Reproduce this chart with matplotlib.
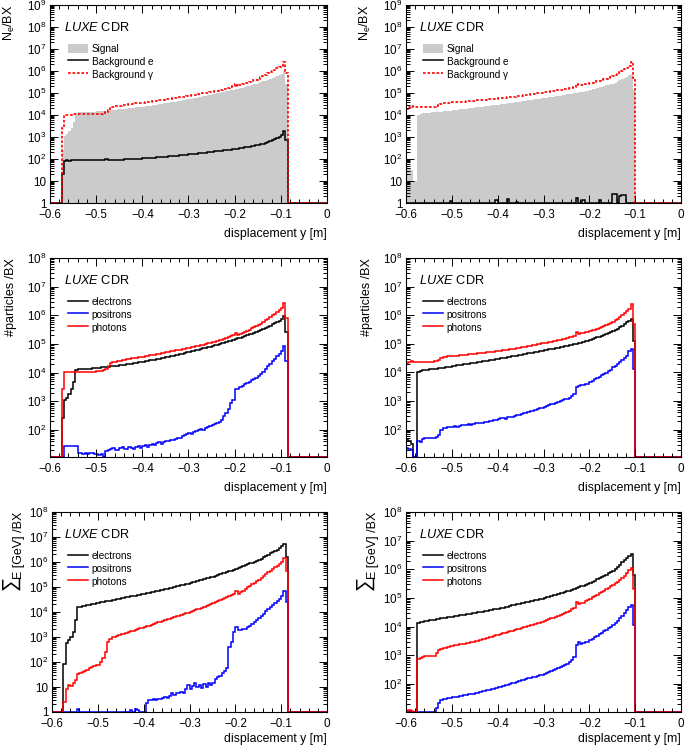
import numpy as np
import matplotlib
matplotlib.use("Agg")
import matplotlib.pyplot as plt
from matplotlib.ticker import LogLocator, FixedLocator, MultipleLocator, FuncFormatter, NullFormatter

plt.rcParams['font.family'] = ['Liberation Sans', 'DejaVu Sans']
plt.rcParams['mathtext.fontset'] = 'custom'
plt.rcParams['mathtext.rm'] = 'Liberation Sans'
plt.rcParams['mathtext.it'] = 'Liberation Sans:italic'
plt.rcParams['mathtext.bf'] = 'Liberation Sans:bold'
plt.rcParams['axes.unicode_minus'] = True

# ---------------- binning ----------------
X_MIN, X_MAX, BIN_WIDTH = -0.6, 0.0, 0.005
LEFT_START = -0.575    # first filled bin of the left-hand column
RIGHT_START = -0.6     # first filled bin of the right-hand column

# ---------------- left column : number of particles per BX ----------------
# bins from -0.575 to -0.085 (98 bins)
left_electrons = [
    260, 1100, 1300, 1800, 2600, 4600, 12000, 13000, 13200, 13400,
    13600, 13800, 14000, 14200, 14400, 14700, 15000, 15300, 15600, 15900,
    16200, 16600, 17000, 17400, 17800, 18200, 18700, 19200, 19700, 20200,
    20800, 21400, 22000, 22700, 23400, 24200, 25000, 25900, 26800, 27800,
    28800, 29900, 31000, 32200, 33500, 34900, 36300, 37800, 39400, 41000,
    42800, 44700, 46700, 48800, 51000, 53300, 55800, 58400, 61200, 64100,
    67200, 70500, 74000, 77700, 81600, 85800, 90300, 95000, 100000, 105500,
    111000, 117000, 124000, 131000, 139000, 147000, 156000, 166000, 177000, 189000,
    202000, 216000, 232000, 249000, 268000, 289000, 312000, 338000, 367000, 400000,
    437000, 480000, 530000, 590000, 660000, 760000, 980000, 260000]
left_photons = [
    2700, 10500, 10500, 10500, 10500, 10600, 10600, 10600, 10700, 10700,
    10800, 10800, 10900, 10900, 11000, 11100, 11200, 11500, 12500, 14000,
    17000, 22000, 23500, 24500, 25500, 26500, 27500, 28500, 29500, 30500,
    31500, 32500, 33500, 34500, 35500, 36500, 37700, 39000, 40300, 41700,
    43100, 44600, 46200, 47800, 49500, 51300, 53200, 55200, 57300, 59500,
    61800, 64200, 66700, 69300, 72000, 74900, 78000, 81200, 84600, 88200,
    92000, 96000, 100500, 105000, 110000, 115000, 120500, 126500, 133000, 140000,
    150000, 160000, 172000, 185000, 205000, 250000, 210000, 230000, 250000, 270000,
    295000, 320000, 350000, 380000, 410000, 450000, 510000, 590000, 670000, 770000,
    880000, 1000000, 1150000, 1300000, 1500000, 1750000, 2700000, 780000]
left_positrons = [
    0, 28, 28, 28, 27, 27, 27, 16, 16, 15,
    16, 15, 16, 16, 15, 15, 14, 15, 0, 18,
    20, 22, 24, 21, 20, 24, 26, 22, 22, 25,
    23, 22, 25, 28, 24, 27, 31, 26, 30, 33,
    29, 34, 38, 33, 37, 42, 40, 46, 44, 50,
    55, 52, 60, 66, 72, 78, 75, 85, 92, 100,
    108, 102, 115, 125, 135, 150, 160, 175, 195, 220,
    300, 380, 550, 850, 1100, 2700, 2800, 3100, 3500, 3900,
    4300, 4800, 5400, 6000, 6800, 7600, 9200, 11000, 13700, 16700,
    20000, 25000, 30000, 37000, 45000, 56000, 83000, 25000]
left_background_e = [
    21, 85, 88, 84, 90, 88, 86, 90, 88, 87,
    89, 87, 90, 88, 91, 89, 90, 88, 92, 100,
    90, 88, 90, 91, 93, 92, 94, 95, 96, 97,
    98, 99, 101, 103, 104, 106, 108, 110, 111, 113,
    115, 117, 119, 122, 124, 127, 130, 133, 136, 139,
    142, 146, 150, 154, 158, 162, 166, 170, 175, 180,
    185, 190, 196, 202, 208, 214, 220, 227, 234, 241,
    248, 255, 262, 270, 278, 287, 299, 311, 324, 337,
    351, 365, 380, 396, 412, 430, 460, 495, 535, 580,
    640, 710, 800, 900, 1050, 1250, 1950, 750]

# ---------------- left column : summed energy per BX [GeV] ----------------
left_electrons_E = [
    87, 550, 750, 1000, 1600, 4800, 15500, 16200, 17000, 17800,
    18600, 19500, 20400, 21400, 22400, 23400, 24400, 25500, 26500, 27700,
    28800, 30100, 31300, 32700, 34000, 35500, 37000, 38500, 40200, 41900,
    43600, 45500, 47400, 49400, 51500, 53700, 56200, 58900, 61700, 64600,
    67600, 70800, 74100, 77600, 81300, 85100, 89700, 94600, 99800, 105200,
    110900, 117000, 123300, 130000, 137100, 144500, 153500, 163000, 173000, 183700,
    195000, 207000, 220000, 233000, 248000, 263000, 282000, 302000, 324000, 347000,
    372000, 398000, 427000, 457000, 490000, 525000, 571000, 622000, 678000, 738000,
    804000, 875000, 953000, 1040000, 1130000, 1230000, 1380000, 1550000, 1740000, 1950000,
    2190000, 2450000, 2820000, 3160000, 3550000, 4170000, 5250000, 1580000]
left_photons_E = [
    2.5, 8.7, 12, 11, 14, 19, 33, 37, 40, 45,
    50, 55, 63, 68, 74, 74, 100, 140, 250, 630,
    870, 955, 1023, 1096, 1175, 1259, 1349, 1445, 1549, 1660,
    1778, 1905, 2042, 2188, 2344, 2512, 2692, 2884, 3090, 3311,
    3548, 3802, 4074, 4365, 4677, 5012, 5370, 5754, 6166, 6607,
    7079, 7586, 8128, 8710, 9333, 10000, 10840, 11750, 12740, 13800,
    14960, 16220, 17580, 19050, 20650, 22390, 24550, 26920, 29510, 32360,
    35480, 38900, 42660, 46770, 51290, 66070, 54950, 63100, 72440, 83180,
    95500, 109600, 125900, 144500, 166000, 190500, 226500, 269200, 319900, 380200,
    451900, 537000, 631000, 724000, 851000, 1000000, 1445000, 447000]
left_positrons_E = [
    0, 0, 0, 0, 0, 0, 1.35, 0, 0, 0,
    0, 0, 0, 0, 0, 0, 0, 0, 0, 0,
    0, 0, 0, 0, 0, 0, 0, 0, 0, 1.2,
    0, 1.3, 1.2, 0, 0, 0, 2.2, 2.9, 3.0, 3.2,
    3.0, 3.4, 3.3, 3.6, 4.0, 3.8, 4.5, 5.5, 5.0, 6.0,
    5.5, 6.2, 5.8, 8.0, 12, 8.0, 11, 14, 10, 12,
    9, 13, 10, 14, 12, 15, 20, 25, 28, 35,
    45, 55, 400, 630, 1600, 2600, 1900, 1900, 2000, 2100,
    2450, 2880, 3390, 4070, 4790, 5620, 6920, 8510, 10500, 12600,
    15500, 19050, 22400, 27500, 33900, 41700, 66100, 24500]

# ---------------- right column : number of particles per BX ----------------
# bins from -0.6 to -0.1 (100 bins)
right_electrons = [
    46, 40, 32, 10, 10, 10500, 11500, 11800, 12100, 12400,
    12700, 13000, 13300, 13600, 14000, 14400, 14800, 15200, 15600, 16000,
    16500, 17000, 17500, 18000, 18500, 19000, 19600, 20200, 20800, 21400,
    22000, 22700, 23400, 24100, 24800, 25600, 26400, 27200, 28100, 29000,
    30000, 31000, 32000, 33000, 34100, 35200, 36400, 37600, 38900, 40200,
    41600, 43000, 44500, 46000, 47600, 49300, 51000, 52800, 54700, 56700,
    58800, 61000, 63300, 65700, 68200, 70800, 73500, 76400, 79400, 82600,
    86000, 89600, 93400, 97400, 101600, 106000, 110700, 115700, 121000, 126600,
    135000, 145000, 155000, 166000, 178000, 191000, 205000, 220000, 235000, 252000,
    270000, 300000, 340000, 380000, 430000, 490000, 560000, 640000, 720000, 130000]
right_photons = [
    19000, 24000, 26000, 23000, 22500, 22500, 22500, 22800, 23000, 23200,
    23500, 23800, 24200, 25500, 28000, 31000, 34000, 35500, 36200, 36800,
    37400, 38000, 38700, 39400, 40100, 40800, 41600, 42400, 43200, 44000,
    44900, 45800, 46800, 47800, 48900, 50000, 51200, 52400, 53700, 55000,
    56400, 57900, 59400, 61000, 62700, 64500, 66400, 68400, 70500, 72700,
    75000, 77500, 80100, 82800, 85700, 88700, 91900, 95200, 98700, 102400,
    106000, 110000, 114000, 118500, 123000, 128000, 133000, 138500, 144000, 150000,
    160000, 168000, 177000, 190000, 260000, 225000, 232000, 240000, 250000, 262000,
    275000, 292000, 312000, 335000, 360000, 388000, 420000, 455000, 495000, 540000,
    590000, 660000, 760000, 890000, 1050000, 1200000, 1400000, 1700000, 2450000, 480000]
right_positrons = [
    22, 21, 19, 0, 0, 40, 38, 48, 49, 50,
    50, 51, 50, 55, 65, 100, 115, 118, 125, 120,
    128, 132, 125, 138, 142, 140, 150, 155, 148, 160,
    165, 170, 175, 168, 185, 190, 200, 195, 210, 220,
    235, 245, 255, 230, 265, 275, 285, 300, 315, 330,
    350, 370, 390, 410, 435, 460, 490, 520, 555, 590,
    630, 670, 710, 760, 810, 860, 920, 990, 1060, 1140,
    1220, 1320, 1450, 1700, 3100, 3300, 3500, 3600, 3800, 4000,
    4600, 5100, 5700, 6300, 7000, 7800, 8700, 9700, 10800, 12000,
    15000, 17000, 19500, 23000, 27000, 32000, 38000, 55000, 66000, 13000]
right_background_e = [
    0, 0, 0, 0, 0, 0, 0, 0, 0, 0,
    0, 0, 0, 0, 0, 0, 0, 0, 0, 1.2,
    0, 0, 0, 0, 0, 0, 0, 0, 0, 0,
    0, 0, 0, 0, 0, 0, 0, 0, 0, 1.4,
    0, 0, 0, 0, 1.5, 0, 0, 0, 1.15, 0,
    0, 0, 0, 0, 0, 0, 0, 0, 0, 0,
    0, 0, 0, 0, 0, 0, 0, 0, 0, 0,
    0, 0, 0, 0, 1.7, 0, 0, 1.3, 0, 0,
    0, 0, 0, 0, 1.4, 0, 0, 0, 0, 0,
    2.6, 2.6, 0, 2.0, 2.3, 2.3, 0, 0, 0, 0]

# ---------------- right column : summed energy per BX [GeV] ----------------
right_electrons_E = [
    0, 0, 0, 0, 0, 13800, 14500, 15000, 15500, 16000,
    16600, 17100, 17600, 18200, 18700, 19300, 19900, 20500, 21100, 21700,
    22400, 23100, 23800, 24500, 25200, 26000, 26800, 27600, 28400, 29300,
    30200, 31300, 32400, 33500, 34700, 35900, 37200, 38500, 39800, 41200,
    42700, 44500, 46300, 48300, 50400, 52500, 54700, 57000, 59400, 61900,
    64600, 67500, 70500, 73600, 76900, 80400, 83900, 87700, 91600, 95700,
    100000, 105400, 111200, 117200, 123600, 130300, 137400, 144900, 152800, 161100,
    169800, 181600, 194100, 207500, 221800, 237100, 253500, 271000, 289700, 309700,
    331100, 364800, 401800, 442600, 487500, 537000, 591600, 651600, 717800, 790700,
    871000, 1035000, 1230000, 1462000, 1738000, 2065000, 2455000, 2917000, 3388000, 631000]
right_photons_E = [
    11, 12, 11, 0, 0, 759, 832, 891, 912, 912,
    933, 955, 977, 1202, 1514, 1660, 1778, 1862, 1950, 2042,
    2138, 2218, 2301, 2388, 2477, 2570, 2667, 2767, 2871, 2979,
    3090, 3258, 3436, 3622, 3819, 4027, 4246, 4477, 4721, 4977,
    5248, 5534, 5834, 6152, 6486, 6839, 7211, 7603, 8017, 8453,
    8913, 9419, 9954, 10520, 11120, 11750, 12420, 13120, 13870, 14660,
    15490, 16670, 17950, 19320, 20800, 22390, 24100, 25940, 27930, 30060,
    32360, 35480, 39810, 45710, 74130, 61660, 64570, 69180, 75860, 85110,
    93330, 104200, 116400, 130000, 145200, 162200, 181100, 202300, 225900, 252300,
    281800, 323600, 371500, 426600, 501200, 602600, 741300, 912000, 1096000, 213800]
right_positrons_E = [
    0, 0, 0, 0, 0, 0, 0, 0, 0, 0,
    0, 0, 0, 15, 21, 27, 30, 31, 32, 33,
    34, 35, 36, 38, 39, 40, 42, 43, 45, 46,
    48, 50, 52, 55, 58, 60, 63, 66, 69, 72,
    76, 80, 85, 90, 95, 100, 106, 112, 118, 125,
    132, 139, 147, 155, 163, 172, 181, 191, 201, 212,
    224, 243, 263, 285, 309, 335, 363, 394, 427, 462,
    501, 575, 676, 891, 2239, 2884, 2512, 2630, 2818, 3020,
    3311, 3741, 4227, 4775, 5395, 6095, 6887, 7780, 8790, 9931,
    11220, 13490, 16220, 19500, 23440, 29990, 38370, 48980, 56230, 11220]

x_ticks = [-0.6, -0.5, -0.4, -0.3, -0.2, -0.1, 0.0]
x_label = "displacement y [m]"
series_labels = ["electrons", "positrons", "photons"]
top_labels = ["Signal", "Background e", "Background \u03b3"]

# ---------------- figure ----------------
W, H = 685, 746
fig = plt.figure(figsize=(W / 100, H / 100), dpi=100)

n_bins = int(round((X_MAX - X_MIN) / BIN_WIDTH))
edges = np.linspace(X_MIN, X_MAX, n_bins + 1)


def full(values, start):
    out = np.zeros(n_bins)
    i0 = int(round((start - X_MIN) / BIN_WIDTH))
    out[i0:i0 + len(values)] = values
    return out


def make_ax(l, r, t, b):
    return fig.add_axes([l / W, 1 - b / H, (r - l) / W, (b - t) / H])


def yfmt(v, pos):
    k = int(round(np.log10(v)))
    if k == 0:
        return "1"
    if k == 1:
        return "10"
    return r"$\mathregular{10^{%d}}$" % k


def xfmt(v, pos):
    if abs(v) < 1e-9:
        return "0"
    return ("%.1f" % v).replace("-", "\u2212")


def style(ax, ymin, ymax, label_y):
    ax.set_xlim(X_MIN, X_MAX)
    ax.set_yscale("log")
    ax.set_ylim(ymin, ymax)
    ax.xaxis.set_major_locator(FixedLocator(x_ticks))
    ax.xaxis.set_minor_locator(MultipleLocator(0.02))
    ax.xaxis.set_major_formatter(FuncFormatter(xfmt))
    lo = int(np.ceil(np.log10(ymin) - 1e-9))
    hi = int(np.floor(np.log10(ymax) + 1e-9))
    ax.yaxis.set_major_locator(FixedLocator([10.0 ** k for k in range(lo, hi + 1)]))
    ax.yaxis.set_minor_locator(LogLocator(base=10, subs=np.arange(2, 10), numticks=20))
    ax.yaxis.set_major_formatter(FuncFormatter(yfmt))
    ax.yaxis.set_minor_formatter(NullFormatter())
    ax.tick_params(which="both", direction="in", top=True, right=True,
                   labelsize=8.4, width=0.7)
    ax.tick_params(axis="x", which="both", pad=4.5)
    ax.tick_params(axis="y", which="both", pad=2.5)
    ax.tick_params(which="major", length=5.5)
    ax.tick_params(which="minor", length=2.8)
    for s in ax.spines.values():
        s.set_linewidth(0.8)
    ax.set_xlabel(x_label, fontsize=8.8, loc="right")
    ax.xaxis.set_label_coords(1.0, label_y)


def luxe(px, py):
    fig.text(px / W, 1 - py / H, r"$\mathit{LUXE}$ CDR", fontsize=9.2, va="baseline")


def top_panel(box, sig, bge, bgg, start):
    ax = make_ax(*box)
    style(ax, 1, 1e9, -0.125)
    ymin = 1
    ax.stairs(np.clip(full(sig, start), ymin, None), edges, baseline=ymin, fill=True,
              color="#cbcbcb", linewidth=0, label=top_labels[0])
    ax.stairs(np.clip(full(bge, start), ymin, None), edges, baseline=None,
              color="black", linewidth=1.1, label=top_labels[1])
    ax.stairs(np.clip(full(bgg, start), ymin, None), edges, baseline=None,
              color="#ff0000", linewidth=1.2, linestyle=(0, (1.6, 1.1)), label=top_labels[2])
    ax.set_ylabel(r"N$_\mathregular{e}$/BX", fontsize=9, loc="top")
    return ax


def particle_panel(box, e, p, g, start, ymin, ylabel, label_y):
    ax = make_ax(*box)
    style(ax, ymin, 1e8, label_y)
    ax.stairs(np.clip(full(e, start), ymin, None), edges, baseline=None,
              color="black", linewidth=1.1, label=series_labels[0])
    ax.stairs(np.clip(full(p, start), ymin, None), edges, baseline=None,
              color="#0000ff", linewidth=1.1, label=series_labels[1])
    ax.stairs(np.clip(full(g, start), ymin, None), edges, baseline=None,
              color="#ff0000", linewidth=1.1, label=series_labels[2])
    ax.set_ylabel(ylabel, fontsize=9, loc="top")
    return ax


def legend(ax, x, y):
    ax.legend(loc="upper left", bbox_to_anchor=(x, y), frameon=False, fontsize=7.2,
              handlelength=2.0, handleheight=1.0, handletextpad=0.35,
              labelspacing=0.28, borderpad=0, borderaxespad=0)


# column geometry in pixels
LX = (50, 327)
RX = (406, 681)

ax1 = top_panel((LX[0], LX[1], 5, 203), left_electrons, left_background_e, left_photons, LEFT_START)
ax2 = top_panel((RX[0], RX[1], 5, 203), right_electrons, right_background_e, right_photons, RIGHT_START)
ax3 = particle_panel((LX[0], LX[1], 258, 457), left_electrons, left_positrons, left_photons,
                     LEFT_START, 11.5, "#particles /BX", -0.125)
ax4 = particle_panel((RX[0], RX[1], 258, 457), right_electrons, right_positrons, right_photons,
                     RIGHT_START, 11, "#particles /BX", -0.125)
ax5 = particle_panel((52, LX[1], 512, 712), left_electrons_E, left_positrons_E, left_photons_E,
                     LEFT_START, 1, "E [GeV] /BX", -0.103)
ax6 = particle_panel((RX[0], RX[1], 512, 712), right_electrons_E, right_positrons_E, right_photons_E,
                     RIGHT_START, 10.5, "E [GeV] /BX", -0.103)

for ax in (ax1, ax2, ax3, ax4):
    w = ax.get_position().width * W
    ax.yaxis.set_label_coords(-33 / w, 1.0)
for ax in (ax5, ax6):
    w = ax.get_position().width * W
    ax.yaxis.set_label_coords(-27 / w, 1.0)

# big summation signs for the energy panels
for px in (10, 364):
    fig.text(px / W, 1 - 583 / H, "\u2211", fontsize=14.5, rotation=90,
             ha="center", va="center")

for lx, base in ((64, 31), (419, 31), (64, 284), (419, 284), (64, 538), (419, 538)):
    luxe(lx, base)


def anchor(ax, px, py):
    p = ax.get_position()
    return ((px / W - p.x0) / p.width, ((1 - py / H) - p.y0) / p.height)


legend(ax1, *anchor(ax1, 68, 44))
legend(ax2, *anchor(ax2, 423, 44))
legend(ax3, *anchor(ax3, 68, 297))
legend(ax4, *anchor(ax4, 423, 297))
legend(ax5, *anchor(ax5, 68, 551))
legend(ax6, *anchor(ax6, 423, 551))

fig.savefig("out.png", dpi=100)
